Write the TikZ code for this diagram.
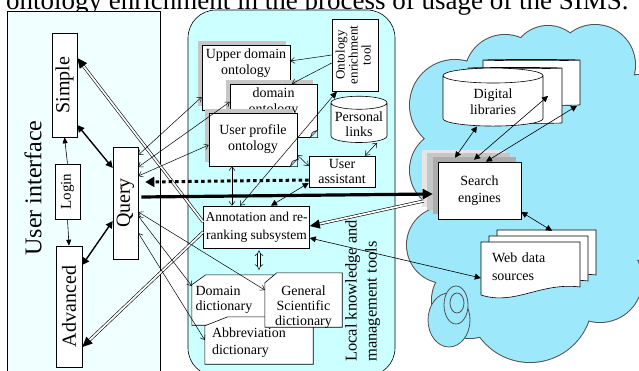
\documentclass[tikz,border=0pt]{standalone}
\usepackage{fontspec}
\setmainfont{Liberation Serif}
\usepackage{graphicx}
\usetikzlibrary{arrows.meta,calc,shapes.geometric,shadows}
\definecolor{PanelClr}{RGB}{240,255,255}
\definecolor{ToolClr}{RGB}{204,255,255}
\definecolor{CloudClr}{RGB}{158,232,252}
\definecolor{CloudLine}{RGB}{80,80,80}

\newcommand\FontAt[2]{\fontsize{#1}{#2}\selectfont}

% Outline of the cloud, as a union of puffs.
\newcommand\CloudShape{%
  (530,190) ellipse [x radius=100, y radius=125]
  (455,105) circle [radius=45]
  (505,75) circle [radius=40]
  (548,62) circle [radius=36]
  (595,65) circle [radius=40]
  (640,120) circle [radius=45]
  (640,210) circle [radius=50]
  (600,280) circle [radius=42]
  (530,300) circle [radius=62]
  (470,300) circle [radius=38]
  (445,245) circle [radius=38]
  (450,170) circle [radius=40]}

% Card outline with the top left corner cut off.
\newcommand\CardOutline[3]{%
  \filldraw[line width=0.6pt, fill=white] ($(#1.north west)+(0,#3)$) -- ($(#1.north west)+(#2,0)$)
    -- (#1.north east) -- (#1.south east) -- (#1.south west) -- cycle;}

\tikzset{
  box/.style={draw, line width=0.6pt, fill=white, inner sep=2pt, align=center, font=\FontAt{14}{16}},
  slot/.style={inner sep=0pt},
  drum/.style={box, cylinder, shape border rotate=90},
  ontshadow/.style={general shadow={fill=gray!45, shadow xshift=-4pt, shadow yshift=4pt}},
  ontlabel/.style={anchor=north, align=center, inner sep=4pt, font=\FontAt{14}{16}},
  thin link/.style={line width=0.5pt, {Straight Barb[length=4pt,width=6pt]}-{Straight Barb[length=4pt,width=6pt]}},
  thin tip/.style={line width=0.5pt, -{Straight Barb[length=4pt,width=6pt]}},
  mixed link/.style={line width=0.5pt, {Straight Barb[length=4pt,width=6pt]}-{Triangle[length=7pt,width=6pt]}},
  tip link/.style={line width=0.6pt, -{Triangle[length=6pt,width=5pt]}},
  fill link/.style={line width=0.6pt, {Triangle[length=6pt,width=6pt]}-{Triangle[length=6pt,width=6pt]}},
  bold link/.style={line width=1.4pt, {Triangle[length=7pt,width=7pt]}-{Triangle[length=7pt,width=7pt]}},
  twin line/.style={double, double distance=1.8pt, line width=0.6pt, shorten >=8pt},
  twin tip/.style={line width=0.6pt, -{Triangle[length=10pt,width=9pt]}},
  hollow link/.style={double, double distance=2.5pt, line width=0.5pt, {Implies}-{Implies}},
  dot link/.style={line width=3pt, dash pattern=on 3.5pt off 3pt, -{Triangle[length=9pt,width=10pt]}},
  heavy link/.style={line width=3.2pt, -{Triangle[length=10pt,width=10pt]}}
}

\begin{document}
\begin{tikzpicture}[x=1pt,y=-1pt]
\useasboundingbox (0,0) rectangle (639,371);

% Caption line, cut by the frame.
\node[anchor=base west, inner sep=0pt, font=\FontAt{27}{30}] (caption) at (6,10)
  {ontology enrichment in the process of usage of the SIMS.};

% Panels.
\draw[line width=0.6pt, fill=PanelClr] (7,11) rectangle (160,380);
\draw[line width=0.6pt, fill=ToolClr, rounded corners=28pt] (188,10) rectangle (395,376);

\node[rotate=90, font=\FontAt{24}{26}] (uilabel) at (33,188) {User interface};
\node[rotate=90, anchor=north west, align=left, inner sep=0pt, font=\FontAt{16.5}{20}] (toollabel) at (345,362)
  {Local knowledge and\\management tools};

% User interface.
\node[box, minimum width=25pt, minimum height=104pt, font=\FontAt{20}{22}] (simple) at (64.5,85) {\rotatebox{90}{Simple}};
\node[box, minimum width=25pt, minimum height=55pt, font=\FontAt{15}{16}] (login) at (67.5,191.5) {\rotatebox{90}{Login}};
\node[box, minimum width=26pt, minimum height=121pt, font=\FontAt{20}{22}] (advanced) at (69,306.5) {\rotatebox{90}{Advanced}};
\node[box, minimum width=25pt, minimum height=112pt, font=\FontAt{20}{22}] (query) at (125.5,203) {\rotatebox{90}{Query}};

% Ontologies.
\node[box, ontshadow, minimum width=88pt, minimum height=65pt,
  label={[ontlabel]north:Upper domain\\ontology}] (upper) at (246,77.5) {};
\node[box, ontshadow, minimum width=87pt, minimum height=53pt,
  label={[ontlabel]north:domain\\ontology}] (domont) at (273.5,110.5) {};
\fill[ToolClr] ($(domont.south east)+(-7,0)$) -- (domont.south east) -- ($(domont.south east)+(0,-7)$) -- cycle;
\draw[line width=0.5pt, fill=gray!40] ($(domont.south east)+(-7,0)$) -- ($(domont.south east)+(0,-7)$) -- ($(domont.south east)+(-5,-5)$) -- cycle;
\node[box, ontshadow, minimum width=88pt, minimum height=53pt] (userprof) at (253,139.5) {User profile\\ontology};
\fill[ToolClr] ($(userprof.south east)+(-7,0)$) -- (userprof.south east) -- ($(userprof.south east)+(0,-7)$) -- cycle;
\draw[line width=0.5pt, fill=gray!40] ($(userprof.south east)+(-7,0)$) -- ($(userprof.south east)+(0,-7)$) -- ($(userprof.south east)+(-5,-5)$) -- cycle;

% Tools.
\node[box, minimum width=46pt, minimum height=72pt, font=\FontAt{13}{13}] (enrich) at (355,55)
  {\rotatebox{90}{\begin{tabular}{@{}c@{}}Ontology\\enrichment\\tool\end{tabular}}};
\node[drum, aspect=0.25, minimum width=56pt, minimum height=36pt, font=\FontAt{14}{15}] (personal) at (359,124) {Personal\\links};
\node[box, minimum width=66pt, minimum height=31pt, font=\FontAt{14}{15}] (assistant) at (342,171.5) {User\\assistant};
\node[box, minimum width=101pt, minimum height=42pt, font=\FontAt{13.5}{18}] (annot) at (256.5,227)
  {Annotation and re-\\ranking subsystem};

% Dictionaries.
\node[slot, minimum width=81pt, minimum height=50pt] (domdict) at (232.5,300) {};
\CardOutline{domdict}{14}{10}
\node[slot, text width=76pt, align=left, font=\FontAt{14}{15}] (domdicttxt) at (233.5,300) {Domain\\dictionary};
\node[slot, minimum width=108pt, minimum height=47pt] (abbrev) at (259,340.5) {};
\CardOutline{abbrev}{23}{9}
\node[slot, text width=100pt, align=left, font=\FontAt{14}{17}] (abbrevtxt) at (262,343) {Abbreviation\\dictionary};
\node[slot, minimum width=77pt, minimum height=54pt] (general) at (303.5,300) {};
\CardOutline{general}{12}{10}
\begin{scope}
  \clip (general.south west) rectangle (general.north east);
  \node[align=center, font=\FontAt{14}{15}] (generaltxt) at (303.5,307) {General\\Scientific\\dictionary};
\end{scope}

% Cloud.
\path[draw=CloudLine, line width=2pt] \CloudShape;
\path[fill=CloudClr] \CloudShape;
\filldraw[draw=CloudLine, line width=0.8pt, fill=CloudClr] (449,320) ellipse [x radius=21, y radius=27];
\filldraw[draw=CloudLine, line width=0.8pt, fill=CloudClr] (456,305) ellipse [x radius=12, y radius=19];
\filldraw[draw=CloudLine, line width=0.8pt, fill=CloudClr] (457,303) ellipse [x radius=7, y radius=10];

\node[drum, aspect=0.3, minimum width=97pt, minimum height=46pt] (dl3) at (531.5,83) {};
\node[drum, aspect=0.3, minimum width=94pt, minimum height=56pt] (dl2) at (515,96) {};
\node[drum, aspect=0.3, minimum width=100pt, minimum height=58pt] (dl1) at (493,102) {Digital\\libraries};

\node[box, minimum width=83pt, minimum height=57pt, font=\FontAt{14}{17},
  general shadow={fill=gray!20, shadow xshift=-16pt, shadow yshift=12pt},
  general shadow={fill=gray!45, shadow xshift=-11pt, shadow yshift=8.5pt},
  general shadow={fill=gray!65, shadow xshift=-5.5pt, shadow yshift=4.5pt}] (search) at (479.5,190.5) {Search\\engines};

\foreach \dx/\dy in {16/-12, 8/-6, 0/0}
  \filldraw[line width=0.6pt, fill=white, shift={(\dx,\dy)}]
    (481,242) -- (580,242) -- (580,287) .. controls (540,282) and (515,306) .. (481,295) -- cycle;
\node[slot, minimum width=99pt, minimum height=50pt, text width=77pt, align=left, font=\FontAt{14}{18}] (web) at (530.5,267)
  {Web data\\sources};

% Ends of the double lines.
\coordinate (simpletip) at (simple.east |- 0,58);
\coordinate (advtip) at (advanced.east |- 0,347);
\coordinate (annottip) at (annot.east |- 0,226);

% User interface links.
\draw[tip link] (login.north) -- (simple.south);
\draw[tip link] (login.south) -- (advanced.north);
\draw[bold link] (simple.east |- 0,125) -- (query.west |- 0,168);
\draw[bold link] (advanced.east |- 0,265) -- (query.west |- 0,221);
\draw[twin line] (annot.west |- 0,222) -- (simpletip);
\draw[twin tip] ($(simpletip)!10pt!(annot.west |- 0,222)$) -- (simpletip);
\draw[twin line] (annot.west |- 0,232) -- (advtip);
\draw[twin tip] ($(advtip)!10pt!(annot.west |- 0,232)$) -- (advtip);
\draw[dot link] (assistant.west |- 0,180) -- ($(query.east |- 0,182)+(7,0)$);
\draw[heavy link] ($(query.east |- 0,197)+(3,0)$) -- ($(search.west |- 0,194)+(-5,0)$);

% Query to ontologies and dictionaries.
\draw[thin link] (query.east |- 0,155) -- (upper.west |- 0,97);
\draw[thin link] (query.east |- 0,167) -- (domont.west |- 0,102);
\draw[thin link] (query.east |- 0,176) -- (userprof.west |- 0,145);
\draw[thin link] (query.east |- 0,212) -- (general.west |- 0,290);
\draw[thin link] (query.east |- 0,216) -- (domdict.west |- 0,286);
\draw[thin link] (query.east |- 0,233) -- (abbrev.west |- 0,340);

% Tool links.
\draw[thin tip] (enrich.west |- 0,55) -- (upper.east |- 0,61);
\draw[thin tip] (enrich.west |- 0,63) -- (domont.north -| 292,0);
\draw[mixed link] (annot.north -| 240,0) -- (enrich.south -| 337,0);
\draw[thin link] (userprof.south -| 232,0) -- (annot.north -| 232,0);
\draw[fill link] (annot.north -| 271,0) -- (assistant.west |- 0,183);
\draw[thin link] (userprof.east |- 0,155) -- (assistant.west |- 0,166);
\draw[thin link] (personal.south -| 377,0) -- (assistant.north -| 365,0);
\draw[hollow link, shorten <=2pt, shorten >=3pt] (annot.south -| 259,0) -- (general.north -| 259,0);

% Cloud links.
\draw[fill link] (dl1.south -| 477,0) -- ($(search.north -| 455,0)+(0,-4)$);
\draw[fill link] (dl2.center -| 548,0) -- ($(search.north -| 474,0)+(0,-2)$);
\draw[fill link] (dl3.south -| 577,0) -- (search.north -| 486,0);
\draw[fill link] (search.east |- 0,212) -- ($(web.north -| 552,0)+(0,-11)$);
\draw[fill link] (annot.east |- 0,238) -- (web.west |- 0,278);
\draw[twin line] ($(search.west |- 0,201)+(-14,0)$) -- (annottip);
\draw[twin tip] ($(annottip)!10pt!(search.west |- 0,201)$) -- (annottip);

\end{tikzpicture}
\end{document}
